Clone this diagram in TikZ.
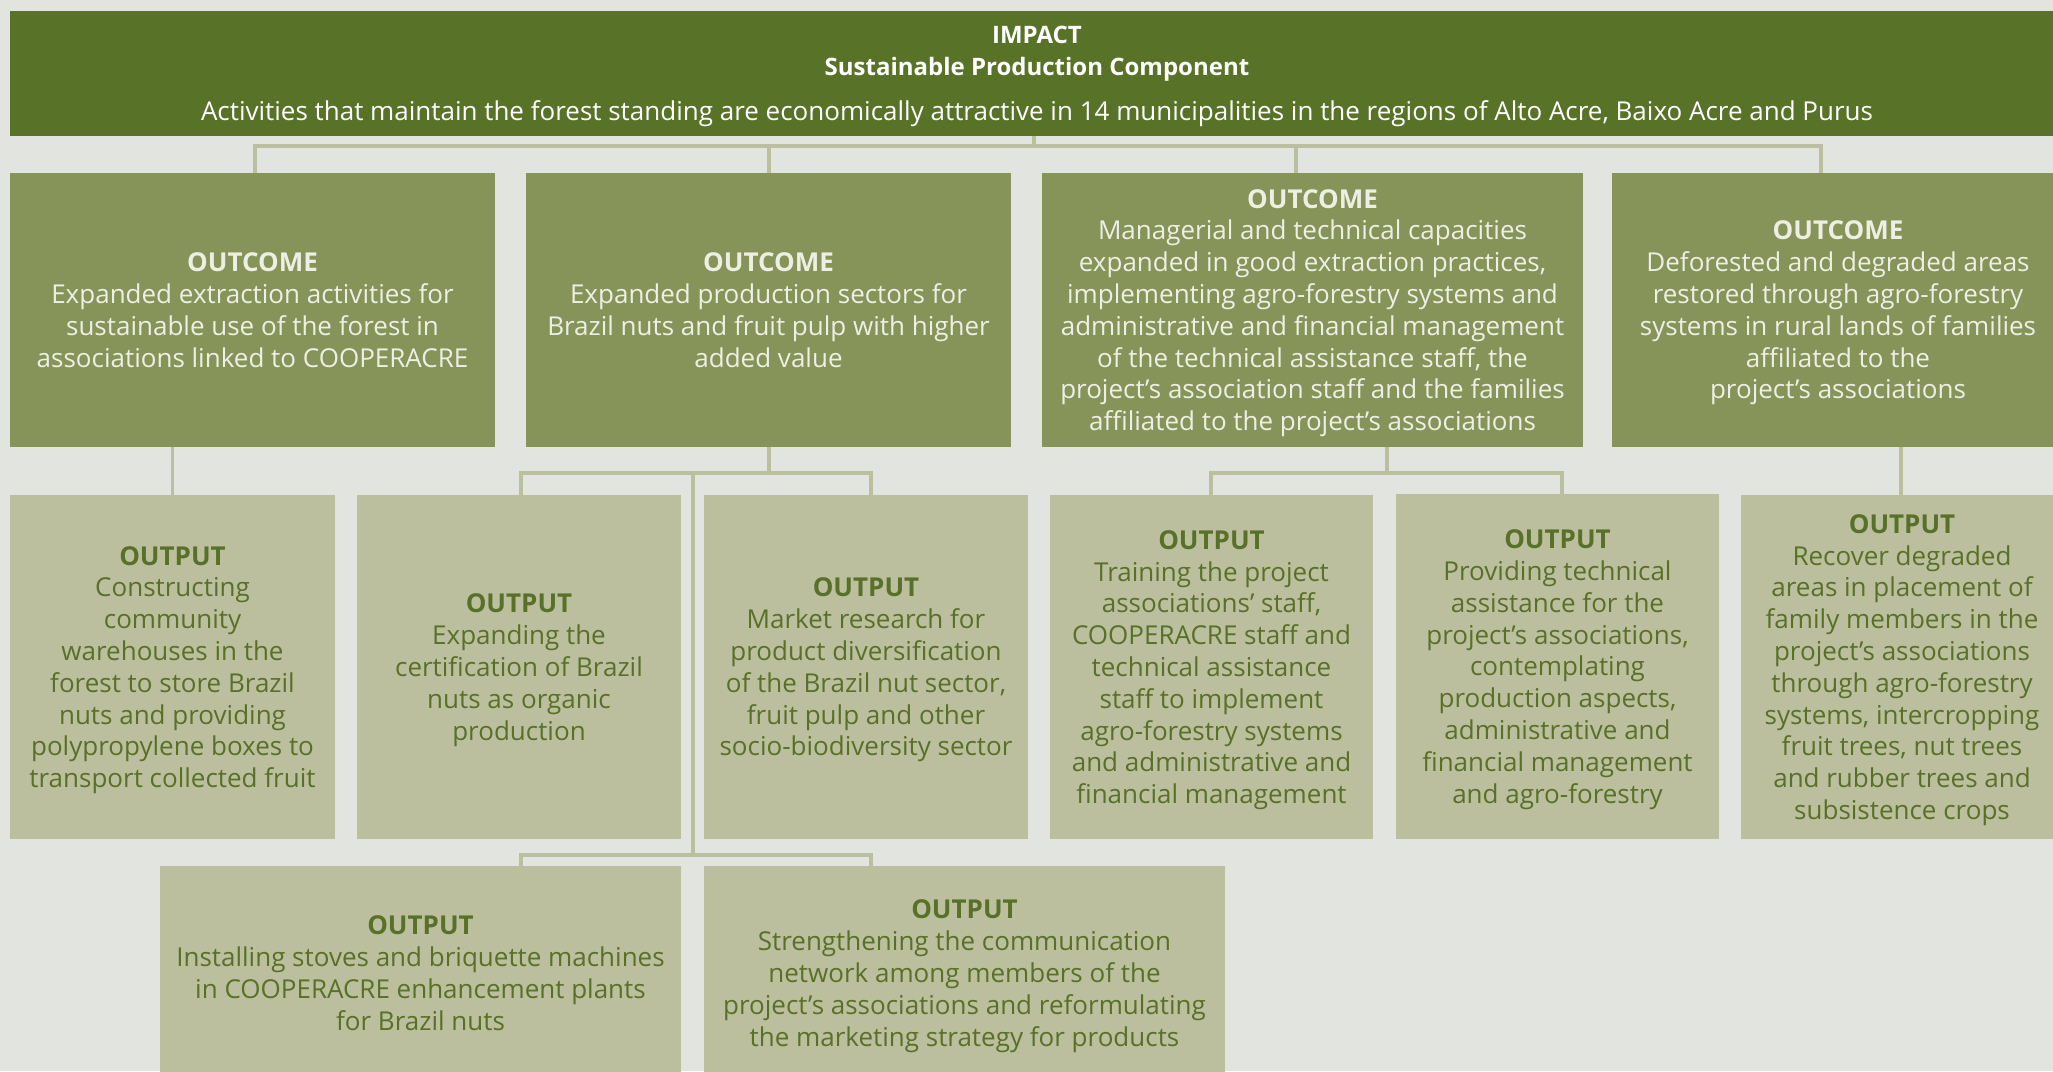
\documentclass[tikz,border=0pt]{standalone}
\usepackage{fontspec}
\setmainfont{Open Sans}
\usetikzlibrary{positioning, calc}

\definecolor{bgcol}{HTML}{E2E4DF}
\definecolor{impactcol}{HTML}{587228}
\definecolor{outcomecol}{HTML}{879459}
\definecolor{outputcol}{HTML}{BBBF9D}
\definecolor{txtgreen}{HTML}{587028}
\definecolor{txtcream}{HTML}{EEEFE4}

\newcommand{\headline}[1]{{\fontsize{24}{33}\selectfont\textbf{#1}}}

\begin{document}
\begin{tikzpicture}[x=1pt, y=-1pt,
    box/.style={rectangle, inner sep=0pt, align=center, text depth=0pt,
      font=\fontsize{26}{31.8}\selectfont},
    impactbox/.style={box, fill=impactcol, text=white},
    outcomebox/.style={box, fill=outcomecol, text=txtcream, minimum height=274pt},
    outputbox/.style={box, fill=outputcol, text=txtgreen, minimum height=344pt},
    lowbox/.style={box, fill=outputcol, text=txtgreen, minimum height=214pt},
    link/.style={draw=outputcol, line width=3.5pt}]
\useasboundingbox (0,0) rectangle (2053,1071);
\fill[bgcol] (0,0) rectangle (2053,1071);

%% IMPACT
\node[impactbox, minimum width=2054pt, minimum height=125pt] (impact) at (1037,73.5)
  {\headline{IMPACT}\\
   \headline{Sustainable Production Component}\\[14pt]
   Activities that maintain the forest standing are economically attractive in 14 municipalities in the regions of Alto Acre, Baixo Acre and Purus};

%% OUTCOMES
\node[outcomebox, minimum width=485pt] (O1) at (252.5,310)
  {\textbf{OUTCOME}\\Expanded extraction activities for\\sustainable use of the forest in\\associations linked to COOPERACRE};
\node[outcomebox, minimum width=485pt] (O2) at (768.5,310)
  {\textbf{OUTCOME}\\Expanded production sectors for\\Brazil nuts and fruit pulp with higher\\added value};
\node[outcomebox, minimum width=541pt] (O3) at (1312.5,310)
  {\textbf{OUTCOME}\\Managerial and technical capacities\\expanded in good extraction practices,\\implementing agro-forestry systems and\\administrative and financial management\\of the technical assistance staff, the\\project’s association staff and the families\\affiliated to the project’s associations};
\node[outcomebox, minimum width=452pt] (O4) at (1838,310)
  {\textbf{OUTCOME}\\Deforested and degraded areas\\restored through agro-forestry\\systems in rural lands of families\\affiliated to the\\project’s associations};

%% OUTPUTS, first row
\node[outputbox, minimum width=325pt] (Out1) at (172.5,667)
  {\textbf{OUTPUT}\\Constructing\\community\\warehouses in the\\forest to store Brazil\\nuts and providing\\polypropylene boxes to\\transport collected fruit};
\node[outputbox, minimum width=324pt] (Out2) at (519,667)
  {\textbf{OUTPUT}\\Expanding the\\certification of Brazil\\nuts as organic\\production};
\node[outputbox, minimum width=324pt] (Out3) at (866,667)
  {\textbf{OUTPUT}\\Market research for\\product diversification\\of the Brazil nut sector,\\fruit pulp and other\\socio-biodiversity sector};
\node[outputbox, minimum width=323pt] (Out4) at (1211.5,667)
  {\textbf{OUTPUT}\\Training the project\\associations’ staff,\\COOPERACRE staff and\\technical assistance\\staff to implement\\agro-forestry systems\\and administrative and\\financial management};
\node[outputbox, minimum width=323pt, minimum height=345pt] (Out5) at (1557.5,666.5)
  {\textbf{OUTPUT}\\Providing technical\\assistance for the\\project’s associations,\\contemplating\\production aspects,\\administrative and\\financial management\\and agro-forestry};
\node[outputbox, minimum width=322pt] (Out6) at (1902,667)
  {\textbf{OUTPUT}\\Recover degraded\\areas in placement of\\family members in the\\project’s associations\\through agro-forestry\\systems, intercropping\\fruit trees, nut trees\\and rubber trees and\\subsistence crops};

%% OUTPUTS, second row
\node[lowbox, minimum width=521pt] (Out7) at (420.5,973)
  {\textbf{OUTPUT}\\Installing stoves and briquette machines\\in COOPERACRE enhancement plants\\for Brazil nuts};
\node[lowbox, minimum width=521pt] (Out8) at (964.5,973)
  {\textbf{OUTPUT}\\Strengthening the communication\\network among members of the\\project’s associations and reformulating\\the marketing strategy for products};

%% impact -> outcomes
\foreach \n/\x in {O1/255, O2/769, O3/1296, O4/1821}{
  \coordinate (t\n) at (\x,146);
}
\coordinate (hub) at (1034,146);
\draw[link] (impact.south -| hub) -- (hub);
\draw[link] (tO1 |- O1.north) -- (tO1) -- (tO4) -- (tO4 |- O4.north);
\draw[link] (tO2) -- (tO2 |- O2.north);
\draw[link] (tO3) -- (tO3 |- O3.north);

%% outcome 1
\draw[link] (Out1.north |- O1.south) -- (Out1.north);

%% outcome 2
\coordinate (b2) at (769,473);
\coordinate (b2L) at (521,473);
\coordinate (b2R) at (871,473);
\coordinate (b2T) at (693,473);
\coordinate (c2) at (693,855);
\coordinate (c2L) at (521,855);
\coordinate (c2R) at (871,855);
\draw[link] (O2.south -| b2) -- (b2);
\draw[link] (b2L |- Out2.north) -- (b2L) -- (b2R) -- (b2R |- Out3.north);
\draw[link] (b2T) -- (c2);
\draw[link] (c2L |- Out7.north) -- (c2L) -- (c2R) -- (c2R |- Out8.north);

%% outcome 3
\coordinate (b3) at (1387,473);
\coordinate (b3L) at (1211,473);
\coordinate (b3R) at (1562,473);
\draw[link] (O3.south -| b3) -- (b3);
\draw[link] (b3L |- Out4.north) -- (b3L) -- (b3R) -- (b3R |- Out5.north);

%% outcome 4
\coordinate (b4) at (1901,473);
\draw[link] (O4.south -| b4) -- (Out6.north -| b4);
\end{tikzpicture}
\end{document}
